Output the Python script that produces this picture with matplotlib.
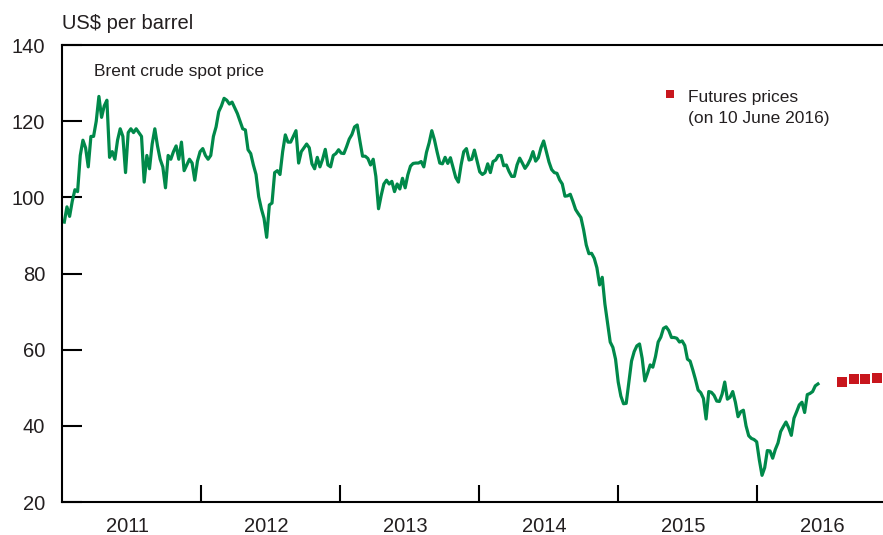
import pandas as pd
import numpy as np
import matplotlib
matplotlib.use('Agg')
import matplotlib.pyplot as plt
import matplotlib.dates as mdates

# Brent spot, weekly (Fridays), US$ per barrel
brent_2011 = [93.5, 97.5, 95, 99, 102, 101.5, 111, 115, 113, 108, 116, 116, 120, 126.5, 121, 124,
              125.5, 110.5, 112, 110, 115, 118, 116, 106.5, 117, 118, 117, 118, 117, 116, 104, 111,
              107.5, 114, 118, 113.5, 110, 108, 102.5, 111, 110, 112, 113.5, 110, 114.5, 107, 108.5,
              110, 109, 104.5, 109.5, 112]
brent_2012 = [112.8, 111, 110, 111, 116, 118.5, 122.5, 124, 126, 125.5, 124.5, 125, 123.5, 122, 120,
              118, 117.7, 112.5, 111.5, 108.5, 106, 100.2, 97, 94.5, 89.5, 98, 98.5, 106.5, 107, 106,
              112, 116.4, 114.5, 114.5, 116, 117.5, 109, 112, 113, 114, 113, 108.8, 107.5, 110.5, 108,
              110, 112.6, 108.5, 108, 111, 111.5, 112.5]
brent_2013 = [111.6, 111.5, 113.3, 115.3, 116.5, 118.5, 119, 114.8, 110.8, 110.8, 110.2, 108.5, 110,
              105.5, 97, 100.5, 103.5, 104.5, 103.5, 104.2, 101.5, 103.5, 102.2, 105, 102.5, 105.9,
              108.2, 108.9, 109, 109, 109.4, 108, 111.8, 114.3, 117.5, 115.1, 111.9, 109, 108.8, 110.5,
              108.9, 110.4, 107.8, 105.2, 104, 108.5, 112, 112.8, 109.8, 110, 112.4, 109.5]
brent_2014 = [106.7, 106, 106.5, 108.8, 106.5, 109.4, 109.8, 111, 111, 108.3, 108.5, 106.8, 105.5,
              105.5, 108.5, 110.3, 109, 107.6, 108.6, 110, 112, 109.5, 110.4, 113, 114.8, 112, 109.3,
              107.3, 106.5, 106.3, 104.6, 103.5, 100.3, 100.4, 100.8, 98.9, 96.8, 95.7, 94.7, 91.5,
              87.5, 85.2, 85.3, 84, 81.5, 77, 79, 72, 67, 62, 60.6, 57.5]
brent_2015 = [51.5, 47.8, 45.8, 45.9, 51.5, 57, 59.5, 61, 61.5, 57.7, 51.8, 53.8, 56, 55.4, 58.2, 62,
              63.3, 65.6, 66, 65, 63.2, 63.2, 63, 62, 62.3, 61.1, 57.5, 57, 54.7, 52.2, 49.4, 48.7,
              47.2, 41.8, 49, 48.8, 48, 46.5, 46.4, 48.3, 51.5, 47, 47.5, 49, 46.2, 42.4, 43.7, 44.1,
              40, 37.4, 36.7, 36.4]
brent_2016 = [35.8, 31, 27, 29, 33.5, 33.4, 31.5, 33.8, 35.5, 38.5, 39.8, 41, 39.5, 37.5, 42, 43.7,
              45.5, 46.2, 43.5, 48.2, 48.5, 49, 50.5, 51]

# futures curve on 10 June 2016
fut_dates = ['2016-08-12', '2016-09-12', '2016-10-12', '2016-11-12']
fut_prices = [51.5, 52.3, 52.4, 52.6]

years = [2011, 2012, 2013, 2014, 2015, 2016]

spot = brent_2011 + brent_2012 + brent_2013 + brent_2014 + brent_2015 + brent_2016
spot_dates = pd.date_range('2011-01-07', periods=len(spot), freq='W-FRI')

GREEN = '#00894a'
RED = '#c8161d'
TXT = '#231f20'
plt.rcParams['font.family'] = ['Liberation Sans', 'DejaVu Sans']

fig = plt.figure(figsize=(8.83, 5.35), dpi=100)
ax = fig.add_axes([62/883, 1-502/535, 1-62/883, (502-45)/535])

ax.plot(spot_dates, spot, color=GREEN, lw=2.3, solid_joinstyle='round')
ax.plot(pd.to_datetime(fut_dates), fut_prices, 's', color=RED, ms=6.5, mew=0, clip_on=False)

ax.set_ylim(20, 140)
ax.set_xlim(pd.Timestamp('2011-01-01'), pd.Timestamp('2016-11-28'))

for s in ['left', 'top', 'bottom']:
    ax.spines[s].set_linewidth(1.5)
    ax.spines[s].set_color('black')
ax.spines['right'].set_visible(False)

ax.set_yticks(range(20, 141, 20))
ax.tick_params(axis='y', direction='in', length=14.5, width=1.5, pad=12,
               labelsize=14.5, labelcolor=TXT)

# year boundaries as ticks, year names centred in between
ax.set_xticks([pd.Timestamp(f'{y}-01-01') for y in years[1:]])
ax.set_xticklabels([])
ax.set_xticks([pd.Timestamp(f'{y}-06-22') for y in years], minor=True)
ax.set_xticklabels([str(y) for y in years], minor=True)
ax.tick_params(axis='x', which='major', direction='in', length=12, width=1.5)
ax.tick_params(axis='x', which='minor', length=0, pad=11, labelsize=14.5, labelcolor=TXT)

fig.text(62/883, 1-29/535, 'US$ per barrel', fontsize=14.5, color=TXT, va='baseline')
ax.text(0.039, 0.941, 'Brent crude spot price', transform=ax.transAxes,
        fontsize=12.5, color=TXT, va='center')

ax.plot([0.741], [0.893], 's', color=RED, ms=6, mew=0, transform=ax.transAxes)
ax.text(0.7625, 0.886, 'Futures prices', transform=ax.transAxes,
        fontsize=12.5, color=TXT, va='center')
ax.text(0.7625, 0.840, '(on 10 June 2016)', transform=ax.transAxes,
        fontsize=12.5, color=TXT, va='center')

fig.savefig('out.png', dpi=100)
